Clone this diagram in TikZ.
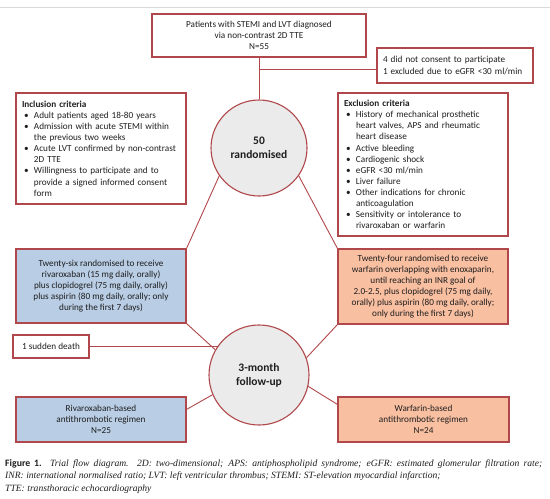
\documentclass[tikz,border=0pt]{standalone}
\usepackage{fontspec}
\setmainfont{Carlito}
\newfontfamily\capfont{Liberation Serif}
\definecolor{bordred}{HTML}{B0474A}
\definecolor{blufill}{HTML}{B9CDE5}
\definecolor{orfill}{HTML}{F9BFA1}
\definecolor{circfill}{HTML}{EBEBEB}
\definecolor{txt}{HTML}{1E1E1E}
\newcommand\myblt{\makebox[12pt][l]{\hspace{2pt}\textbullet}}
\newcommand\myind{\hspace*{12pt}}
\begin{document}
\begin{tikzpicture}[x=1pt,y=-1pt,
  every node/.style={text=txt, font=\fontsize{9.2}{11.1}\selectfont},
  box/.style={draw=bordred, line width=1.1pt, inner sep=0pt, align=center},
  conn/.style={draw=bordred, line width=0.9pt},
  circ/.style={circle, draw=bordred, line width=1.1pt, fill=circfill, inner sep=0pt, align=center, font=\bfseries\fontsize{11.5}{14}\selectfont},
  capt/.style={anchor=base west, inner sep=0pt, font=\capfont\itshape\fontsize{9.6}{11}\selectfont}]
\useasboundingbox (0,0) rectangle (550,499);
\draw[black!15, line width=1pt] (0,7) -- (550,7);

\node[box, minimum width=214pt, minimum height=43pt] (top) at (259,35.5)
  {Patients with STEMI and LVT diagnosed\\via non-contrast 2D TTE\\N=55};
\node[box, minimum width=156pt, minimum height=35pt, text width=144pt, align=left] (cons) at (455,65.5)
  {4 did not consent to participate\\1 excluded due to eGFR <30 ml/min};
\node[circ, minimum size=96pt] (rand) at (259,148) {50\\randomised};

\node[box, minimum width=170pt, minimum height=111pt, text width=158pt, align=left] (inc) at (101,148.5)
  {\textbf{Inclusion criteria}\\
   \myblt Adult patients aged 18-80 years\\
   \myblt Admission with acute STEMI within\\
   \myind the previous two weeks\\
   \myblt Acute LVT confirmed by non-contrast\\
   \myind 2D TTE\\
   \myblt Willingness to participate and to\\
   \myind provide a signed informed consent\\
   \myind form};
\node[box, minimum width=170pt, minimum height=143pt, text width=158pt, align=left] (exc) at (423,164.5)
  {\textbf{Exclusion criteria}\\
   \myblt History of mechanical prosthetic\\
   \myind heart valves, APS and rheumatic\\
   \myind heart disease\\
   \myblt Active bleeding\\
   \myblt Cardiogenic shock\\
   \myblt eGFR <30 ml/min\\
   \myblt Liver failure\\
   \myblt Other indications for chronic\\
   \myind anticoagulation\\
   \myblt Sensitivity or intolerance to\\
   \myind rivaroxaban or warfarin};

\node[box, fill=blufill, minimum width=170pt, minimum height=74pt] (riv) at (101,286)
  {Twenty-six randomised to receive\\rivaroxaban (15 mg daily, orally)\\plus clopidogrel (75 mg daily, orally)\\plus aspirin (80 mg daily, orally; only\\during the first 7 days)};
\node[box, fill=orfill, minimum width=170pt, minimum height=75pt] (war) at (423,286.5)
  {Twenty-four randomised to receive\\warfarin overlapping with enoxaparin,\\until reaching an INR goal of\\2.0-2.5, plus clopidogrel (75 mg daily,\\orally) plus aspirin (80 mg daily, orally;\\only during the first 7 days)};

\node[box, minimum width=76pt, minimum height=23pt] (sd) at (51,346.5) {1 sudden death};
\node[circ, minimum size=100pt] (fu) at (259,375) {3-month\\follow-up};

\node[box, fill=blufill, minimum width=170pt, minimum height=45pt] (rivn) at (101,419.5)
  {Rivaroxaban-based\\antithrombotic regimen\\N=25};
\node[box, fill=orfill, minimum width=171pt, minimum height=45pt] (warn) at (423.5,419.5)
  {Warfarin-based\\antithrombotic regimen\\N=24};

\draw[conn] (top.south) -- (rand.north);
\coordinate (br) at (259,69);
\draw[conn] (br) -- (br -| cons.west);
\draw[conn] (rand.215) -- (riv.north east);
\draw[conn] (rand.325) -- (war.north west);
\draw[conn] (riv.south east) -- (fu.150);
\draw[conn] (war.south west) -- (fu.20);
\draw[conn] (sd.east) -- (sd.east -| fu.145);
\draw[conn] (fu.203) -- ([yshift=-13pt]rivn.north east);
\draw[conn] (fu.347) -- ([yshift=-8pt]warn.north west);

\node[capt] (cap1) at (5,466) {\makebox[537pt][s]{{\normalfont\bfseries\fontsize{9.8}{11}\selectfont Figure 1.} Trial flow diagram. 2D: two-dimensional; APS: antiphospholipid syndrome; eGFR: estimated glomerular filtration rate;}};
\node[capt] (cap2) at (5,478.5) {INR: international normalised ratio; LVT: left ventricular thrombus; STEMI: ST-elevation myocardial infarction;};
\node[capt] (cap3) at (5,491) {TTE: transthoracic echocardiography};
\end{tikzpicture}
\end{document}
